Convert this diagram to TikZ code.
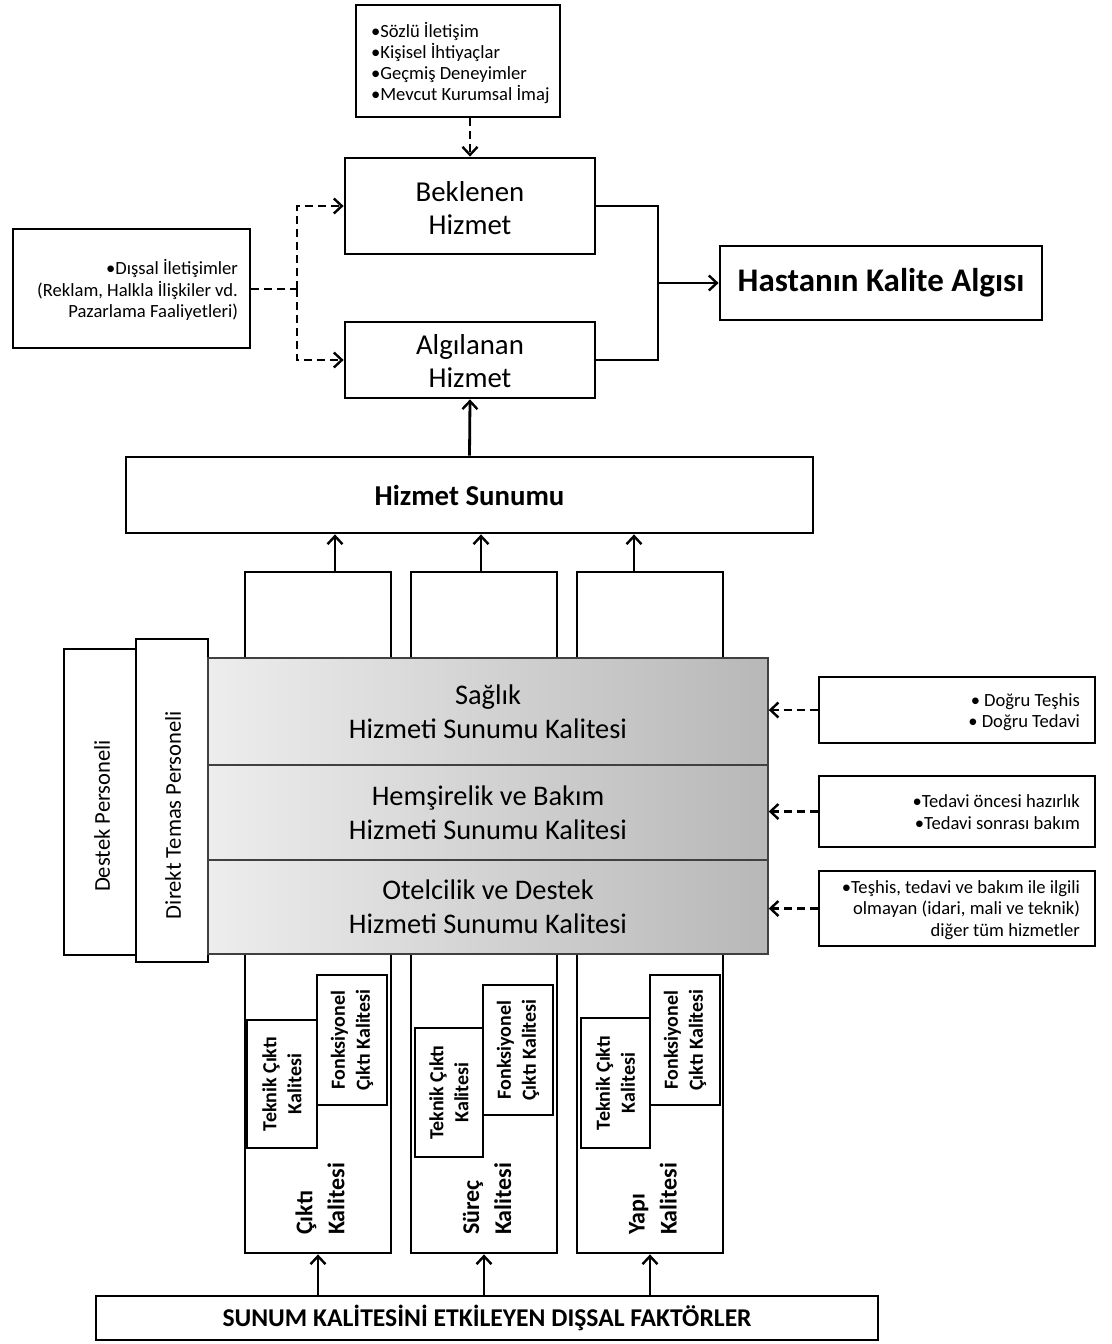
\documentclass[tikz,border=0pt]{standalone}
\usepackage{fontspec}
\setmainfont{Carlito}
\usetikzlibrary{arrows.meta,fit,calc}
\begin{document}
\begin{tikzpicture}[x=0.5pt,y=-0.5pt,
  box/.style={draw=black, line width=1.4pt, inner sep=0pt, fill=white},
  conn/.style={line width=1.4pt},
  arr/.style={conn, -{Straight Barb[length=4pt,width=7.5pt,line width=1.2pt]}},
  dsh/.style={dash pattern=on 4pt off 2.5pt},
  band/.style={draw=black!75, line width=0.7pt, left color=black!7, right color=black!28, inner sep=0pt},
  small/.style={font=\fontsize{9.3}{10.6}\selectfont},
  mid/.style={align=center, font=\fontsize{14.4}{16.2}\selectfont},
  bandtxt/.style={align=center, font=\fontsize{14.2}{16.8}\selectfont},
  vlabel/.style={rotate=90, font=\bfseries\fontsize{10}{12.5}\selectfont, align=center},
  qlabel/.style={rotate=90, anchor=west, align=left, font=\bfseries\fontsize{12}{16}\selectfont},
]
\useasboundingbox (0,0) rectangle (1112,1344);

% --- top part
\node[box, fit={(356,5)(560,117)}] (src) {};
\node[small, anchor=west, align=left] (srctxt) at (364,63)
  {•Sözlü İletişim\\•Kişisel İhtiyaçlar\\•Geçmiş Deneyimler\\•Mevcut Kurumsal İmaj};

\node[box, fit={(345,158)(595,254)}] (bek) {};
\node[mid] (bektxt) at ([yshift=-1pt]bek.center) {Beklenen\\Hizmet};
\node[box, fit={(345,322)(595,398)}] (alg) {};
\node[mid] (algtxt) at ([yshift=-0.5pt]alg.center) {Algılanan\\Hizmet};
\node[box, fit={(720,246)(1042,320)}] (hast) {};
\node[font=\bfseries\fontsize{16.5}{19}\selectfont] (hasttxt) at (hast.center) {Hastanın Kalite Algısı};

\node[box, fit={(13,229)(250,348)}] (ext) {};
\node[small, anchor=east, align=right] (exttxt) at (245,290)
  {•Dışsal İletişimler\\(Reklam, Halkla İlişkiler vd.\\Pazarlama Faaliyetleri)};

\node[box, fit={(126,457)(813,533)}] (hs) {};
\node[font=\bfseries\fontsize{14.4}{17}\selectfont] (hstxt) at (hs.center) {Hizmet Sunumu};

% connectors top
\draw[arr, dsh] (bek.north |- src.south) -- (bek.north);
\coordinate (jn) at (658,283);
\draw[conn] (bek.east) -| (jn) |- (alg.east);
\draw[arr] (jn) -- (hast.west);
\coordinate (dj) at (297,289);
\draw[conn, dsh] (ext.east |- dj) -- (dj);
\draw[arr, dsh] (dj) |- (bek.west);
\draw[arr, dsh] (dj) |- (alg.west);
\draw[arr] (hs.north) -- (alg.south);

% --- columns
\node[box, fit={(245,572)(391,1253)}] (col1) {};
\node[box, fit={(411,572)(557,1253)}] (col2) {};
\node[box, fit={(577,572)(723,1253)}] (col3) {};

\draw[arr] ([xshift=8.5pt]col1.north) -- ([xshift=8.5pt]col1.north |- hs.south);
\draw[arr] ([xshift=-1.5pt]col2.north) -- ([xshift=-1.5pt]col2.north |- hs.south);
\draw[arr] ([xshift=-8pt]col3.north) -- ([xshift=-8pt]col3.north |- hs.south);

% --- personnel
\node[box, fit={(64,649)(136,955)}] (destek) {};
\node[box, fit={(136,639)(208,962)}] (direkt) {};
\node[rotate=90, font=\fontsize{11.3}{13}\selectfont] (destektxt) at (102,816) {Destek Personeli};
\node[rotate=90, font=\fontsize{11.3}{13}\selectfont] (direkttxt) at (173,815) {Direkt Temas Personeli};

% --- band
\node[band, fit={(208,658)(768,765)}] (sag) {};
\node[band, fit={(208,765)(768,860)}] (hem) {};
\node[band, fit={(208,860)(768,954)}] (otel) {};
\node[bandtxt] (sagtxt) at (sag.center) {Sağlık\\Hizmeti Sunumu Kalitesi};
\node[bandtxt] (hemtxt) at (hem.center) {Hemşirelik ve Bakım\\Hizmeti Sunumu Kalitesi};
\node[bandtxt] (oteltxt) at (otel.center) {Otelcilik ve Destek\\Hizmeti Sunumu Kalitesi};

% --- right boxes
\node[box, fit={(819,677)(1095,743)}] (rb1) {};
\node[small, anchor=east, align=right] (rb1t) at (1087,712) {• Doğru Teşhis\\• Doğru Tedavi};
\node[box, fit={(819,776)(1095,847)}] (rb2) {};
\node[small, anchor=east, align=right] (rb2t) at (1087,812) {•Tedavi öncesi hazırlık\\•Tedavi sonrası bakım};
\node[box, fit={(819,871)(1095,946)}] (rb3) {};
\node[small, anchor=east, align=right] (rb3t) at (1087,910) {•Teşhis, tedavi ve bakım ile ilgili\\olmayan (idari, mali ve teknik)\\diğer tüm hizmetler};

\draw[arr, dsh] (rb1.west) -- (rb1.west -| sag.east);
\draw[arr, dsh] (rb2.west) -- (rb2.west -| hem.east);
\draw[arr, dsh] (rb3.west) -- (rb3.west -| otel.east);

% --- inner quality boxes
\node[box, fit={(317,975)(387,1105)}] (fon1) {};
\node[box, fit={(247,1020)(317,1148)}] (tek1) {};
\node[box, fit={(483,985)(553,1115)}] (fon2) {};
\node[box, fit={(415,1028)(483,1157)}] (tek2) {};
\node[box, fit={(650,975)(720,1105)}] (fon3) {};
\node[box, fit={(581,1018)(650,1148)}] (tek3) {};

\node[vlabel] (tek1t) at (tek1.center) {Teknik Çıktı\\Kalitesi};
\node[vlabel] (fon1t) at (fon1.center) {Fonksiyonel\\Çıktı Kalitesi};
\node[vlabel] (tek2t) at (tek2.center) {Teknik Çıktı\\Kalitesi};
\node[vlabel] (fon2t) at (fon2.center) {Fonksiyonel\\Çıktı Kalitesi};
\node[vlabel] (tek3t) at (tek3.center) {Teknik Çıktı\\Kalitesi};
\node[vlabel] (fon3t) at (fon3.center) {Fonksiyonel\\Çıktı Kalitesi};

\node[qlabel] (q1) at (320,1242) {Çıktı\\Kalitesi};
\node[qlabel] (q2) at (487,1242) {Süreç\\Kalitesi};
\node[qlabel] (q3) at (653,1242) {Yapı\\Kalitesi};

% --- bottom
\node[box, fit={(96,1296)(878,1340)}] (ext2) {};
\node[font=\bfseries\fontsize{12.8}{15}\selectfont] (ext2t) at (ext2.center) {SUNUM KALİTESİNİ ETKİLEYEN DIŞSAL FAKTÖRLER};
\draw[arr] (col1.south |- ext2.north) -- (col1.south);
\draw[arr] (col2.south |- ext2.north) -- (col2.south);
\draw[arr] (col3.south |- ext2.north) -- (col3.south);
\end{tikzpicture}
\end{document}
